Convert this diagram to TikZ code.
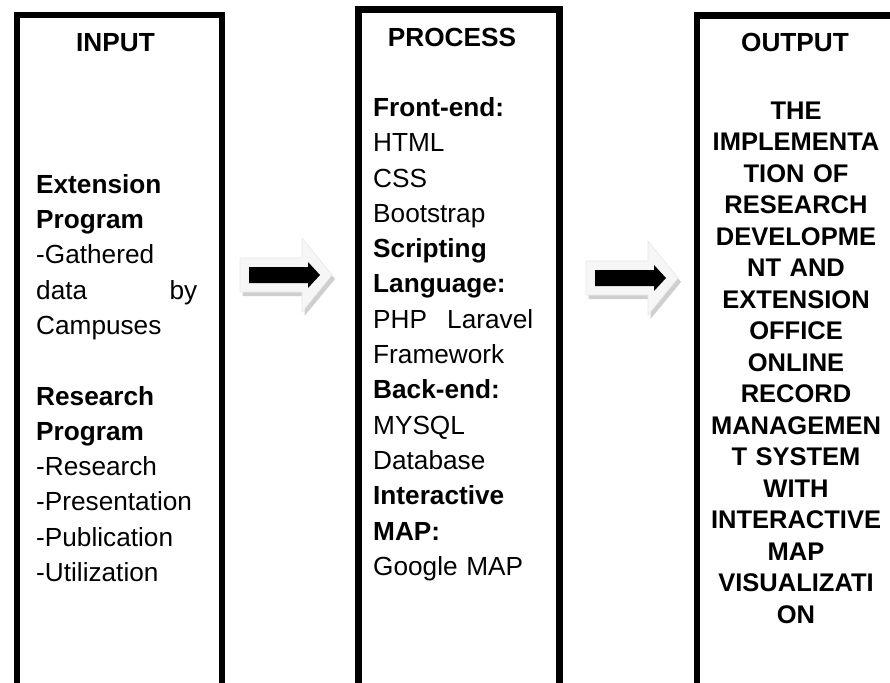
\documentclass[tikz,border=0pt]{standalone}
\usepackage{fontspec}
\setmainfont{Liberation Sans}
\begin{document}
\begin{tikzpicture}[x=1pt,y=-1pt,
  colbox/.style={draw=black, line width=6.5pt, rectangle, inner sep=0pt, anchor=north west},
  head/.style={font=\fontsize{26.2}{30}\selectfont\bfseries, inner sep=0pt, anchor=base},
  body/.style={font=\fontsize{26.2}{35.3}\selectfont, inner sep=0pt, anchor=north west, align=left, text width=#1},
  outbody/.style={font=\fontsize{25.5}{31.5}\selectfont\bfseries, inner sep=0pt, anchor=north, align=center, text width=200pt},
  arrowshadow/.style={fill=gray!38},
  arrowouter/.style={fill=gray!7, draw=gray!18, line width=0.6pt},
  arrowinner/.style={fill=black},
  blockarrow/.pic={
    \fill[arrowshadow] (2.5,-13) -- (64.5,-13) -- (64.5,-33) -- (95,4) -- (64.5,41) -- (64.5,21) -- (2.5,21) -- cycle;
    \filldraw[arrowouter] (0,-17) -- (62,-17) -- (62,-37) -- (92,0) -- (62,37) -- (62,17) -- (0,17) -- cycle;
    \fill[arrowinner] (9,-8) -- (68,-8) -- (68,-13) -- (80,0) -- (68,13) -- (68,8) -- (9,8) -- cycle;
  }
]
\useasboundingbox (0,0) rectangle (890,682);
\clip (0,0) rectangle (890,682);
\fill[white] (0,0) rectangle (890,682);

% column boxes (open at the bottom, beyond the page)
\node[colbox, minimum width=205pt, minimum height=720pt] (inbox) at (13.5,12) {};
\node[colbox, minimum width=201pt, minimum height=720pt] (procbox) at (355,6.5) {};
\node[colbox, minimum width=205pt, minimum height=720pt] (outbox) at (693.5,12.5) {};

% headings
\node[head] (inhead) at (115.5,52) {INPUT};
\node[head] (prochead) at (452,47) {PROCESS};
\node[head] (outhead) at (795,52) {OUTPUT};

% input text
\node[body=161pt] (intext) at (36,168.3) {\strut\textbf{Extension}\\
\textbf{Program}\\
-Gathered\\
data\hfill by\\
Campuses\\[35.3pt]
\textbf{Research}\\
\textbf{Program}\\
-Research\\
-Presentation\\
-Publication\\
-Utilization};

% process text
\node[body=160pt] (proctext) at (373,91.5) {\strut\textbf{Front-end:}\\
HTML\\
CSS\\
Bootstrap\\
\textbf{Scripting}\\
\textbf{Language:}\\
PHP\hfill Laravel\\
Framework\\
\textbf{Back-end:}\\
MYSQL\\
Database\\
\textbf{Interactive}\\
\textbf{MAP:}\\
Google MAP};

% output text
\node[outbody] (outtext) at (796,97) {\strut THE\\
IMPLEMENTA\\
TION OF\\
RESEARCH\\
DEVELOPME\\
NT AND\\
EXTENSION\\
OFFICE\\
ONLINE\\
RECORD\\
MANAGEMEN\\
T SYSTEM\\
WITH\\
INTERACTIVE\\
MAP\\
VISUALIZATI\\
ON};

% block arrows between the columns
\pic (arr1) at (240,275) {blockarrow};
\pic (arr2) at (586,278) {blockarrow};
\end{tikzpicture}
\end{document}
